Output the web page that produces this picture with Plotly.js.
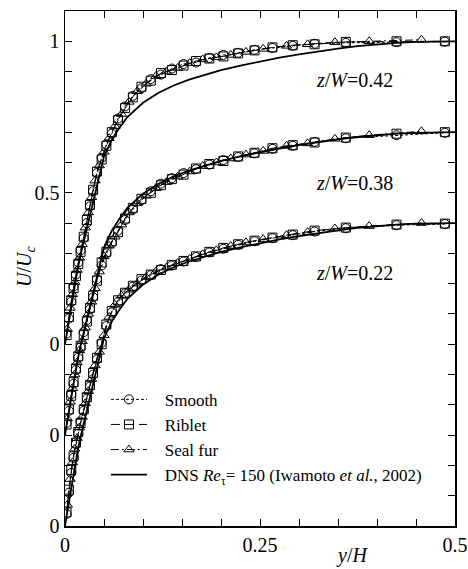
<!DOCTYPE html>
<html>
<head>
<meta charset="utf-8">
<script src="https://cdn.plot.ly/plotly-3.0.1.min.js"></script>
<style>html,body{margin:0;padding:0;background:#fff;}#chart{width:468px;height:569px;}</style>
</head>
<body>
<div id="chart"></div>
<script>
// Profile offsets on the U/Uc axis (z/W = 0.42, 0.38, 0.22)
const profileNames = ["z/W=0.42", "z/W=0.38", "z/W=0.22"];
const profileOffsets = [0, -0.3, -0.6];

// y/H sample positions
const xGridA = [0.002,0.005,0.008,0.011,0.014,0.017,0.020,0.024,0.028,0.032,0.036,0.041,0.047,0.053,0.060,0.068,0.077,0.087,0.098,0.110,0.123,0.137,0.152,0.168,0.185,0.203,0.222,0.243,0.266,0.292,0.320,0.360,0.425,0.487];
const xGridT = [0.003,0.0065,0.0095,0.0125,0.0155,0.0185,0.022,0.026,0.030,0.034,0.0385,0.044,0.050,0.0565,0.064,0.0725,0.082,0.0925,0.104,0.1165,0.130,0.1445,0.160,0.1765,0.194,0.2125,0.232,0.254,0.284,0.311,0.346,0.39,0.457];

// U/Uc, z/W = 0.42
const smooth042 = [0.035,0.085,0.14,0.19,0.23,0.27,0.31,0.35,0.40,0.455,0.505,0.565,0.615,0.66,0.695,0.745,0.785,0.82,0.845,0.875,0.89,0.91,0.925,0.93,0.945,0.955,0.962,0.972,0.978,0.985,0.992,0.995,0.997,0.999];
const riblet042 = [0.03,0.09,0.145,0.185,0.225,0.265,0.305,0.355,0.41,0.46,0.51,0.57,0.61,0.655,0.70,0.74,0.78,0.815,0.85,0.87,0.895,0.905,0.92,0.935,0.943,0.95,0.96,0.97,0.98,0.987,0.99,0.998,1.0,1.0];
const sealfur042 = [0.05,0.12,0.165,0.205,0.245,0.285,0.33,0.385,0.435,0.485,0.54,0.59,0.635,0.68,0.72,0.76,0.80,0.835,0.86,0.885,0.90,0.912,0.928,0.94,0.947,0.955,0.965,0.975,0.985,0.99,0.997,1.0,1.005];

// U/Uc, z/W = 0.38
const smooth038 = [0.04,0.08,0.135,0.17,0.215,0.255,0.29,0.34,0.38,0.415,0.455,0.515,0.56,0.60,0.635,0.675,0.71,0.745,0.775,0.805,0.83,0.848,0.865,0.878,0.893,0.908,0.918,0.93,0.945,0.955,0.968,0.98,0.99,0.998];
const riblet038 = [0.035,0.085,0.13,0.175,0.22,0.26,0.295,0.33,0.375,0.42,0.46,0.51,0.57,0.605,0.64,0.67,0.715,0.75,0.78,0.80,0.825,0.845,0.86,0.88,0.895,0.905,0.92,0.932,0.947,0.957,0.966,0.982,0.995,1.0];
const sealfur038 = [0.055,0.11,0.155,0.20,0.24,0.28,0.31,0.355,0.40,0.44,0.485,0.54,0.59,0.625,0.655,0.695,0.735,0.765,0.79,0.815,0.835,0.853,0.87,0.888,0.90,0.913,0.926,0.938,0.955,0.963,0.978,0.99,1.003];

// U/Uc, z/W = 0.22
const smooth022 = [0.04,0.11,0.175,0.225,0.27,0.305,0.345,0.38,0.42,0.46,0.50,0.55,0.605,0.66,0.705,0.74,0.768,0.79,0.81,0.828,0.848,0.86,0.873,0.888,0.903,0.915,0.928,0.94,0.95,0.96,0.972,0.983,0.993,0.997];
const riblet022 = [0.045,0.12,0.185,0.23,0.275,0.31,0.34,0.385,0.425,0.465,0.505,0.555,0.60,0.665,0.71,0.745,0.77,0.793,0.815,0.83,0.845,0.862,0.875,0.89,0.905,0.918,0.93,0.942,0.952,0.962,0.975,0.985,0.995,0.998];
const sealfur022 = [0.07,0.155,0.21,0.255,0.29,0.325,0.36,0.405,0.445,0.485,0.53,0.575,0.63,0.69,0.73,0.76,0.78,0.80,0.822,0.84,0.853,0.868,0.882,0.897,0.91,0.924,0.936,0.947,0.96,0.97,0.982,0.99,1.0];

// DNS Re_tau = 150 (Iwamoto et al., 2002)
const dnsX = [0,0.004,0.008,0.012,0.016,0.02,0.025,0.03,0.035,0.04,0.045,0.05,0.06,0.07,0.08,0.09,0.1,0.12,0.14,0.16,0.18,0.2,0.225,0.25,0.275,0.3,0.325,0.35,0.375,0.4,0.425,0.45,0.475,0.5];
const dnsU = [0,0.065,0.13,0.19,0.245,0.295,0.35,0.41,0.465,0.52,0.575,0.62,0.675,0.715,0.75,0.775,0.797,0.83,0.855,0.874,0.89,0.905,0.92,0.934,0.946,0.957,0.967,0.976,0.984,0.99,0.995,0.998,1.0,1.0];

const yTickVals = [-0.6, -0.3, 0, 0.5, 1];
const yTickText = ["0", "0", "0", "0.5", "1"];
const xTickVals = [0, 0.25, 0.5];
const xTickText = ["0", "0.25", "0.5"];

const FONT = "'Liberation Serif', 'Times New Roman', Times, serif";
const NB = "\u00a0\u00a0\u00a0";
const shift = (arr, off) => arr.map(v => v + off);

const styles = {
  smooth:  {name: "Smooth",   symbol: "circle-open",      dash: "3px,2px"},
  riblet:  {name: "Riblet",   symbol: "square-open",      dash: "9px,5px"},
  sealfur: {name: "Seal fur", symbol: "triangle-up-open", dash: "8px,3px,2px,3px"}
};
const sets = [
  {smooth: smooth042, riblet: riblet042, sealfur: sealfur042},
  {smooth: smooth038, riblet: riblet038, sealfur: sealfur038},
  {smooth: smooth022, riblet: riblet022, sealfur: sealfur022}
];

const traces = [];
sets.forEach((s, i) => {
  const off = profileOffsets[i];
  traces.push({x: dnsX, y: shift(dnsU, off), mode: "lines", type: "scatter",
    name: NB + "DNS <i>Re</i><sub>τ</sub>= 150 (Iwamoto <i>et al.</i>, 2002)",
    legendgroup: "dns", showlegend: i === 0, legendrank: 4,
    line: {color: "#000", width: 1.8}});
  ["smooth", "riblet", "sealfur"].forEach((k, j) => {
    const st = styles[k];
    traces.push({x: k === "sealfur" ? xGridT : xGridA, y: shift(s[k], off),
      mode: "lines+markers", type: "scatter", name: NB + st.name,
      legendgroup: k, showlegend: i === 0, legendrank: j + 1,
      line: {color: "#000", width: 1, dash: st.dash},
      marker: {symbol: st.symbol, size: 9, color: "#000", line: {color: "#000", width: 1}}});
  });
});

const annY = [0.871, 0.531, 0.234];
const annotations = profileNames.map((n, i) => ({
  x: 0.371, y: annY[i], xref: "x", yref: "y", showarrow: false,
  xanchor: "center", yanchor: "middle",
  text: "<i>z</i>/<i>W</i>=" + n.split("=")[1],
  font: {family: FONT, size: 20, color: "#000"}
}));
// axis titles
annotations.push({xref: "paper", yref: "paper", x: -0.1, y: 0.503, showarrow: false,
  xanchor: "center", yanchor: "middle",
  textangle: -90, text: "<i>U</i>/<i>U</i><sub><i>c</i></sub>",
  font: {family: FONT, size: 20, color: "#000"}});
annotations.push({xref: "paper", yref: "paper", x: 0.735, y: -0.058, showarrow: false,
  xanchor: "center", yanchor: "middle",
  text: "<i>y</i>/<i>H</i>", font: {family: FONT, size: 20, color: "#000"}});

const layout = {
  width: 468, height: 569,
  margin: {l: 65, r: 13, t: 11, b: 43},
  paper_bgcolor: "#fff", plot_bgcolor: "#fff",
  font: {family: FONT, color: "#000"},
  showlegend: true,
  legend: {x: 0.105, y: 0.28, xanchor: "left", yanchor: "top",
    bgcolor: "rgba(0,0,0,0)", font: {family: FONT, size: 17, color: "#000"},
    tracegroupgap: 0, itemwidth: 36, traceorder: "normal"},
  xaxis: {range: [0, 0.5], tickvals: xTickVals, ticktext: xTickText,
    ticks: "inside", ticklen: 7, tickwidth: 1, tickcolor: "#000",
    showline: true, linecolor: "#000", linewidth: 1.5, mirror: "ticks",
    showgrid: false, zeroline: false,
    minor: {dtick: 0.05, tick0: 0, ticks: "inside", ticklen: 7, tickcolor: "#000", showgrid: false},
    tickfont: {family: FONT, size: 20, color: "#000"}},
  yaxis: {range: [-0.6, 1.1], tickvals: yTickVals, ticktext: yTickText,
    ticks: "inside", ticklen: 7, tickwidth: 1, tickcolor: "#000",
    showline: true, linecolor: "#000", linewidth: 1.5, mirror: "ticks",
    showgrid: false, zeroline: false,
    minor: {dtick: 0.1, tick0: 0, ticks: "inside", ticklen: 7, tickcolor: "#000", showgrid: false},
    tickfont: {family: FONT, size: 20, color: "#000"}},
  annotations: annotations
};

Plotly.newPlot("chart", traces, layout, {displayModeBar: false, staticPlot: true});
</script>
</body>
</html>
